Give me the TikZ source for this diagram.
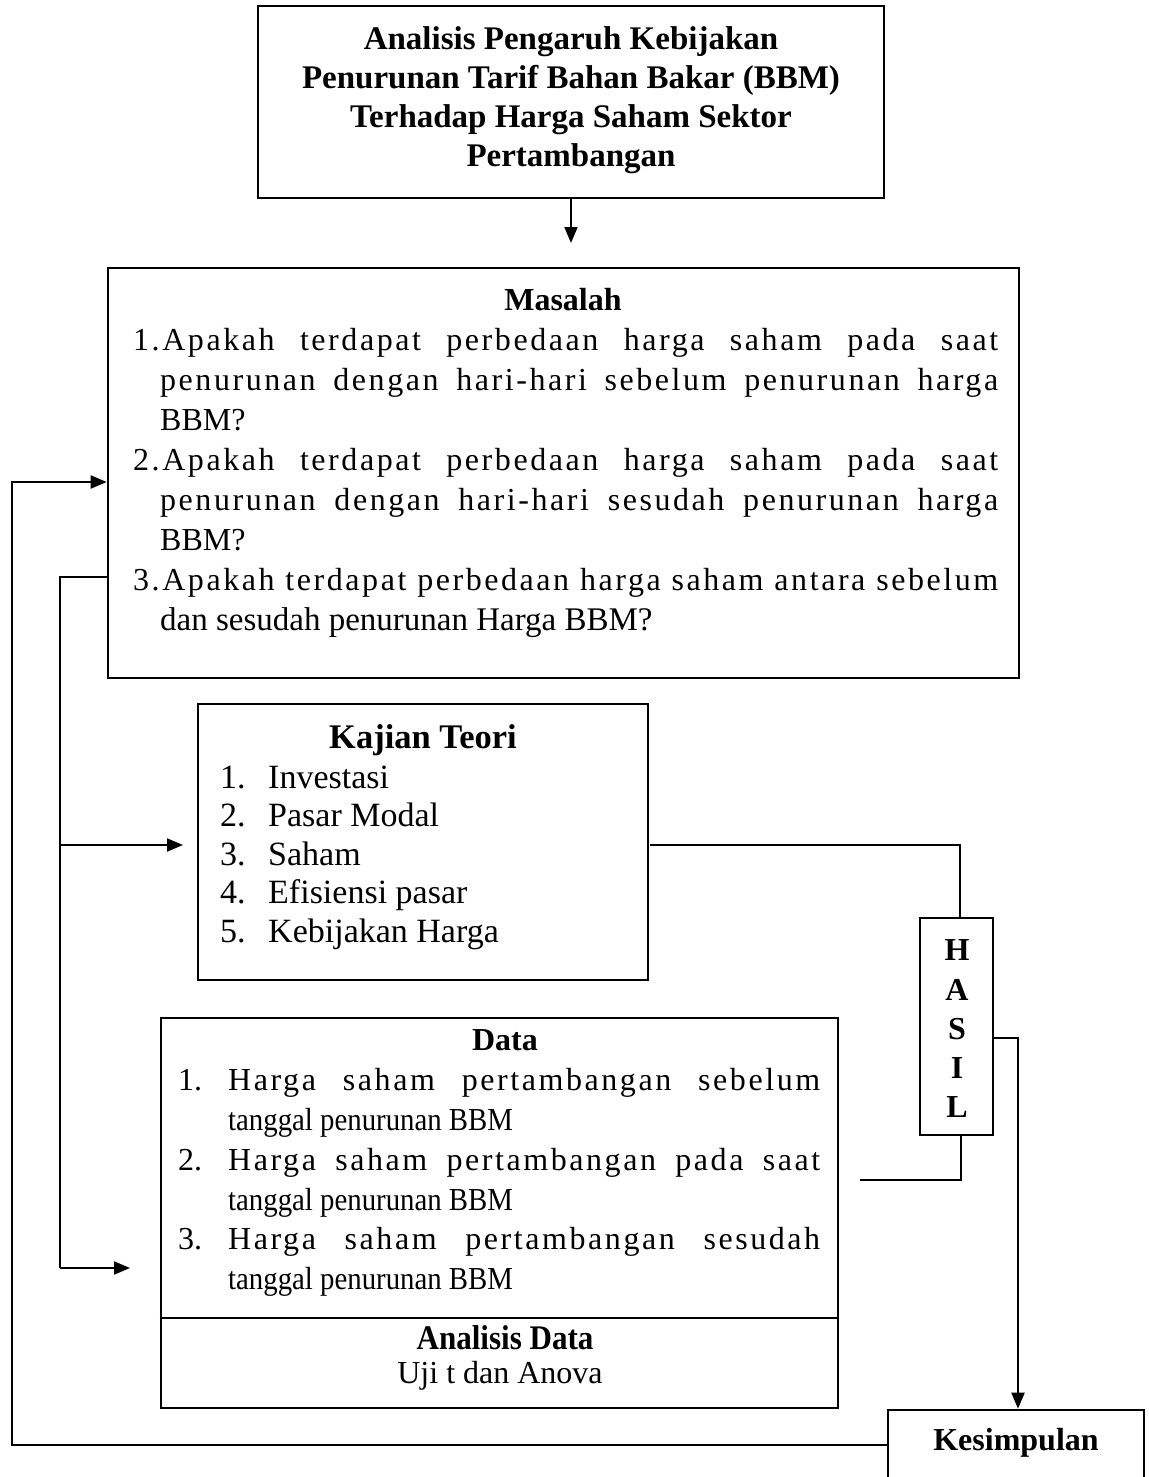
\documentclass[tikz,border=0pt]{standalone}
\usepackage{fontspec}
\setmainfont{Liberation Serif}
\usetikzlibrary{arrows.meta}
\newcommand{\jl}[2]{\makebox[#1][s]{\addfontfeature{LetterSpace=8}#2}}
\newcommand{\cnd}[1]{{\addfontfeature{FakeStretch=0.9}#1}}
\begin{document}
\begin{tikzpicture}[x=1pt,y=-1pt,
  box/.style={draw, line width=2.6pt, inner sep=0pt},
  conn/.style={line width=2pt},
  arr/.style={line width=2pt, -{Triangle[length=16pt,width=13pt]}},
  txt/.style={inner sep=0pt, anchor=base west, font=\fontsize{32}{39}\selectfont},
  btxt/.style={inner sep=0pt, anchor=base west, font=\fontsize{34}{39}\selectfont},
  ttl/.style={inner sep=0pt, font=\fontsize{32}{39}\selectfont\bfseries},
  bttl/.style={inner sep=0pt, font=\fontsize{34.5}{39}\selectfont\bfseries},
  ctr/.style={inner sep=0pt, font=\fontsize{32}{39}\selectfont}]
\useasboundingbox (0,0) rectangle (1148,1477);

% boxes
\node[box, minimum width=626pt, minimum height=192pt] (top) at (571,102) {};
\node[box, minimum width=911pt, minimum height=410pt] (masalah) at (563.5,473) {};
\node[box, minimum width=450pt, minimum height=276pt] (kajian) at (423,842) {};
\node[box, minimum width=677pt, minimum height=390pt] (data) at (499.5,1213) {};
\node[box, minimum width=73pt, minimum height=217pt] (hasil) at (956.5,1026.5) {};
\node[box, minimum width=256pt, minimum height=70pt] (kesim) at (1016,1445) {};

% top title
\node[bttl, align=center, font=\fontsize{33}{39}\selectfont\bfseries] (toptxt) at (571,100) {Analisis Pengaruh Kebijakan\\Penurunan Tarif Bahan Bakar (BBM)\\Terhadap Harga Saham Sektor\\Pertambangan};

% Masalah
\node[ttl] (mtitle) at (563,300) {Masalah};
\node[txt] (m1) at (133,350) {\jl{865pt}{1.Apakah terdapat perbedaan harga saham pada saat}};
\node[txt] (m2) at (160,390) {\jl{838pt}{penurunan dengan hari-hari sebelum penurunan harga}};
\node[txt] (m3) at (160,430) {BBM?};
\node[txt] (m4) at (133,470) {\jl{865pt}{2.Apakah terdapat perbedaan harga saham pada saat}};
\node[txt] (m5) at (160,510) {\jl{838pt}{penurunan dengan hari-hari sesudah penurunan harga}};
\node[txt] (m6) at (160,550) {BBM?};
\node[txt] (m7) at (133,590) {\jl{865pt}{3.Apakah terdapat perbedaan harga saham antara sebelum}};
\node[txt, font=\fontsize{33}{39}\selectfont] (m8) at (160,630) {dan sesudah penurunan Harga BBM?};

% Kajian Teori
\node[bttl] (ktitle) at (423,740) {Kajian Teori};
\node[btxt] (k1n) at (220,788) {1.};  \node[btxt] (k1) at (268,788) {Investasi};
\node[btxt] (k2n) at (220,826) {2.};  \node[btxt] (k2) at (268,826) {Pasar Modal};
\node[btxt] (k3n) at (220,865) {3.};  \node[btxt] (k3) at (268,865) {Saham};
\node[btxt] (k4n) at (220,903) {4.};  \node[btxt] (k4) at (268,903) {Efisiensi pasar};
\node[btxt] (k5n) at (220,942) {5.};  \node[btxt] (k5) at (268,942) {Kebijakan Harga};

% Data
\node[ttl] (dtitle) at (505,1040) {Data};
\node[txt] (d1n) at (178,1090) {1.}; \node[txt] (d1) at (228,1090) {\jl{592pt}{Harga saham pertambangan sebelum}};
\node[txt] (d1b) at (228,1130) {\cnd{tanggal penurunan BBM}};
\node[txt] (d2n) at (178,1170) {2.}; \node[txt] (d2) at (228,1170) {\jl{592pt}{Harga saham pertambangan pada saat}};
\node[txt] (d2b) at (228,1210) {\cnd{tanggal penurunan BBM}};
\node[txt] (d3n) at (178,1249) {3.}; \node[txt] (d3) at (228,1249) {\jl{592pt}{Harga saham pertambangan sesudah}};
\node[txt] (d3b) at (228,1289) {\cnd{tanggal penurunan BBM}};
\coordinate (sepy) at (0,1318);
\draw[line width=2pt] (data.west |- sepy) -- (data.east |- sepy);
\node[bttl] (atitle) at (505,1338) {\cnd{Analisis Data}};
\node[ctr] (atxt) at (500,1376) {Uji t dan Anova};

% HASIL
\node[ttl] (hH) at (957,950) {H};
\node[ttl] (hA) at (957,990) {A};
\node[ttl] (hS) at (957,1029) {S};
\node[ttl] (hI) at (957,1068) {I};
\node[ttl] (hL) at (957,1107) {L};

% Kesimpulan
\node[ttl] (ktxt) at (1016,1443) {Kesimpulan};

% connectors
\coordinate (topArr) at (571,243);
\draw[arr] (top.south -| topArr) -- (topArr);

\coordinate (loopL) at (12,482);
\draw[arr] (kesim.west) -| (loopL) -- (loopL -| masalah.west);

\coordinate (brT) at (60,577);
\coordinate (brK) at (60,845);
\coordinate (brB) at (60,1268);
\coordinate (kajIn) at (183,845);
\coordinate (dataIn) at (130,1268);
\draw[conn] (masalah.west |- brT) -- (brT) -- (brB);
\draw[arr] (brK) -- (kajIn);
\draw[arr] (brB) -- (dataIn);

\coordinate (kajOut) at (650,845);
\coordinate (hTop) at (960,845);
\draw[conn] (kajOut) -- (hTop) -- (hTop |- hasil.north);

\coordinate (hBot) at (961,1180);
\coordinate (dataOut) at (860,1180);
\draw[conn] (hBot |- hasil.south) -- (hBot) -- (dataOut);

\coordinate (hR) at (1018,1038);
\draw[arr] (hasil.east |- hR) -- (hR) -- (hR |- kesim.north);
\end{tikzpicture}
\end{document}
